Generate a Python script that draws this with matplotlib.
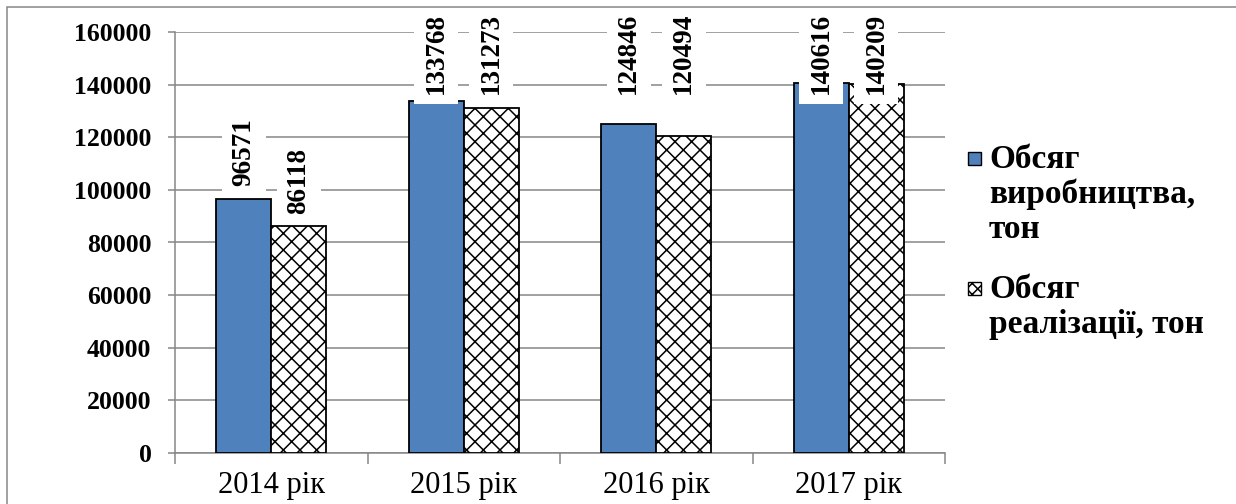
import matplotlib
matplotlib.use("Agg")
import numpy as np
from matplotlib import pyplot as plt
from matplotlib import transforms
from matplotlib.patches import Rectangle

years = ['2014 рік', '2015 рік', '2016 рік', '2017 рік']
production = [96571, 133768, 124846, 140616]
sales = [86118, 131273, 120494, 140209]
names = ['Обсяг\nвиробництва,\nтон', 'Обсяг\nреалізації, тон']
yticks = np.arange(0, 160001, 20000)

plt.rcParams['font.family'] = ['Liberation Serif', 'DejaVu Serif']
plt.rcParams['hatch.linewidth'] = 1.1

fig = plt.figure(figsize=(12.36, 5.04), dpi=100)
ax = fig.add_axes([175 / 1236, 1 - 453 / 504, 770 / 1236, 421 / 504])

x = np.arange(len(years))
w = 0.286
b1 = ax.bar(x - w / 2, production, w, color='#4F81BD', edgecolor='black',
            linewidth=1.3, zorder=3)
b2 = ax.bar(x + w / 2, sales, w, color='white', edgecolor='black', hatch='xx',
            linewidth=1.3, zorder=3)

ax.set_ylim(0, 160000)
ax.set_xlim(-0.5, len(years) - 0.5)
ax.set_yticks(yticks)
ax.set_yticklabels([str(v) for v in yticks], fontsize=18.5, fontweight='bold')
ax.tick_params(axis='y', length=5, width=1.1, color='#868686', pad=12)

# category boundaries carry the tick marks, centres carry the labels
ax.set_xticks(np.arange(-0.5, len(years), 1.0))
ax.set_xticklabels([])
ax.tick_params(axis='x', which='major', length=8, width=1.1, color='#868686')
ax.set_xticks(x, minor=True)
ax.set_xticklabels(years, minor=True, fontsize=22)
ax.tick_params(axis='x', which='minor', length=0, pad=13)

ax.grid(axis='y', color='#868686', linewidth=1.1, zorder=0)
ax.set_axisbelow(True)
for s in ['top', 'right']:
    ax.spines[s].set_visible(False)
for s in ['left', 'bottom']:
    ax.spines[s].set_color('#868686')
    ax.spines[s].set_linewidth(1.1)

# value labels, pushed to the top when they would not fit
tr = transforms.blended_transform_factory(ax.transData, ax.transAxes)
box = dict(boxstyle='square,pad=0.35', facecolor='white', edgecolor='none')
for bars in (b1, b2):
    for r in bars:
        v = r.get_height()
        cx = r.get_x() + r.get_width() / 2
        if v > 110000:
            ax.text(cx, 1.045, str(int(v)), transform=tr, rotation=90,
                    ha='center', va='top', fontsize=19.5, fontweight='bold',
                    bbox=box, zorder=5, clip_on=False)
        else:
            ax.annotate(str(int(v)), (cx, v), xytext=(0, 9),
                        textcoords='offset points', rotation=90,
                        ha='center', va='bottom', fontsize=19.5,
                        fontweight='bold', bbox=box, zorder=5)

# legend drawn by hand: marker sits next to the first line of each entry
for i, (name, fc, h) in enumerate(zip(names, ['#4F81BD', 'white'], [None, 'xxx'])):
    ytop = [152, 282][i]
    fig.patches.append(Rectangle((968 / 1236, 1 - (ytop + 13) / 504),
                                 13 / 1236, 13 / 504, transform=fig.transFigure,
                                 facecolor=fc, edgecolor='black', hatch=h,
                                 linewidth=1.0))
    fig.text(989 / 1236, 1 - (ytop - 8) / 504, name, ha='left', va='top',
             fontsize=24, fontweight='bold', linespacing=1.15)

# outer chart border
fig.patches.append(Rectangle((7 / 1236, -0.1), 1.2, 1 - 7 / 504 + 0.1,
                             transform=fig.transFigure, fill=False,
                             edgecolor='#868686', linewidth=1.1))

fig.savefig('out.png', dpi=100)
